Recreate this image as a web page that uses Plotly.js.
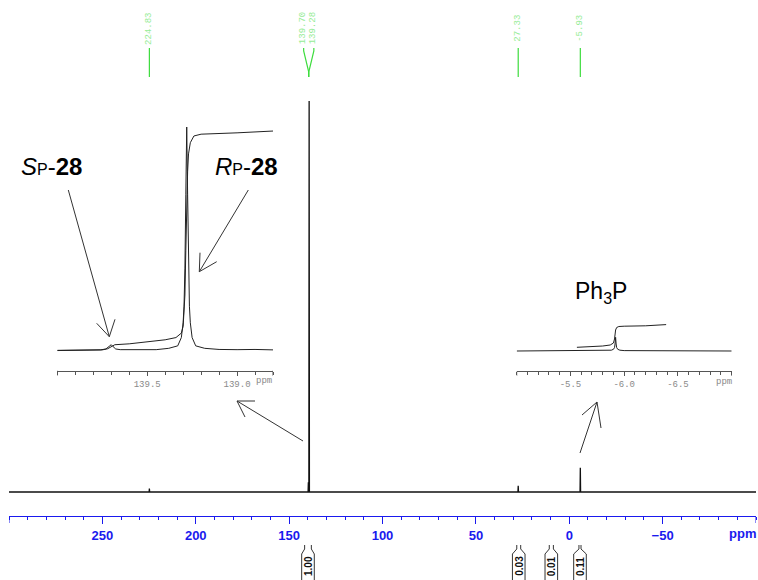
<!DOCTYPE html>
<html>
<head>
<meta charset="utf-8">
<script src="https://cdn.plot.ly/plotly-3.0.1.min.js"></script>
<style>html,body{margin:0;padding:0;background:#fff;}#chart{width:758px;height:580px;}</style>
</head>
<body>
<div id="chart"></div>
<script>
// ---------------- DATA ----------------
// main 31P spectrum: peak positions (ppm) and intensities (% of largest)
const mainPeakPpm = [224.83, 139.70, 139.28, 27.33, -5.93];
const mainPeakInt = [0.9, 2.5, 100, 1.6, 6.2];
const mainRange = [300, -100];
const mainTickVals = [250, 200, 150, 100, 50, 0, -50];
const mainTickText = ['250', '200', '150', '100', '50', '0', '\u221250'];

// peak pick labels
const labelPpm = [224.83, 139.70, 139.28, 27.33, -5.93];
const labelText = ['224.83', '139.70', '139.28', '27.33', '-5.93'];

// integrals
const integralFrom = [141.7, 28.1, 10.7, -5.2];
const integralTo = [138.1, 26.0, 8.5, -6.3];
const integralText = ['1.00', '0.03', '0.01', '0.11'];

// inset A (139 ppm region): spectrum and integral curve
const insetAPpm = [140.00, 139.85, 139.76, 139.73, 139.715, 139.70, 139.69, 139.675, 139.65, 139.55, 139.45,
  139.38, 139.33, 139.31, 139.30, 139.295, 139.29, 139.285, 139.28, 139.275, 139.27, 139.265, 139.26,
  139.25, 139.23, 139.18, 139.10, 139.05, 139.00, 138.90, 138.80];
const insetAInt = [0.2, 0.3, 0.5, 0.9, 2.0, 2.8, 2.0, 0.9, 0.6, 0.5, 0.6,
  1.2, 2.3, 6, 12.6, 20, 37, 70, 100, 70, 37, 20, 12.6,
  6, 2.3, 1.2, 0.7, 0.8, 0.6, 0.7, 0.5];
const insetAIntegPpm = [140.00, 139.75, 139.72, 139.70, 139.68, 139.60, 139.50, 139.40, 139.34, 139.31,
  139.30, 139.29, 139.285, 139.28, 139.275, 139.27, 139.26, 139.24, 139.20, 139.00, 138.80];
const insetAIntegVal = [0.3, 0.5, 1.0, 2.0, 2.8, 3.2, 4.0, 5.0, 6.0, 8,
  11, 25, 45, 65, 80, 88, 93, 96, 96.8, 97.4, 98.2];
const insetARange = [140.0, 138.8];
const insetATickVals = [139.5, 139.0];
const insetATickText = ['139.5', '139.0'];

// inset B (Ph3P region): spectrum and integral curve
const insetBPpm = [-5.00, -5.30, -5.50, -5.80, -5.88, -5.90, -5.91, -5.915, -5.92, -5.925, -5.93,
  -5.94, -5.96, -6.00, -6.30, -6.60, -7.00];
const insetBInt = [0.0, 0.2, 0.3, 0.4, 0.8, 1.7, 3.4, 7, 13.7, 7, 3.4,
  1.7, 0.8, 0.4, 0.2, 0.3, 0.0];
const insetBIntegPpm = [-5.56, -5.70, -5.80, -5.87, -5.90, -5.91, -5.915, -5.92, -5.93, -5.95, -6.00, -6.20, -6.39];
const insetBIntegVal = [3.7, 4.2, 5.0, 6.0, 8, 12, 17, 21, 23.5, 24.5, 24.8, 25.2, 26.4];
const insetBRange = [-5.0, -7.0];
const insetBTickVals = [-5.5, -6.0, -6.5];
const insetBTickText = ['-5.5', '-6.0', '-6.5'];

// ---------------- LAYOUT HELPERS ----------------
const W = 758, H = 580;
const MX0 = 9, MX1 = 756;
function mainPx(ppm) { return MX0 + (mainRange[0] - ppm) / (mainRange[0] - mainRange[1]) * (MX1 - MX0); }
function px(x) { return x / W; }
function py(y) { return 1 - y / H; }

// build main spectrum polyline from peak list
const order = mainPeakPpm.map((p, i) => i).sort((a, b) => mainPeakPpm[b] - mainPeakPpm[a]);
const mainX = [mainRange[0]], mainY = [0];
order.forEach(i => {
  const p = mainPeakPpm[i];
  mainX.push(p + 0.15, p, p - 0.15);
  mainY.push(0, mainPeakInt[i], 0);
});
mainX.push(mainRange[1]); mainY.push(0);

const traces = [
  {x: mainX, y: mainY, xaxis: 'x', yaxis: 'y', mode: 'lines', line: {color: '#111', width: 1.3}, hoverinfo: 'skip'},
  {x: insetAPpm, y: insetAInt, xaxis: 'x2', yaxis: 'y2', mode: 'lines', line: {color: '#222', width: 1}, hoverinfo: 'skip'},
  {x: insetAIntegPpm, y: insetAIntegVal, xaxis: 'x2', yaxis: 'y2', mode: 'lines', line: {color: '#222', width: 1}, hoverinfo: 'skip'},
  {x: insetBPpm, y: insetBInt, xaxis: 'x3', yaxis: 'y3', mode: 'lines', line: {color: '#222', width: 1}, hoverinfo: 'skip'},
  {x: insetBIntegPpm, y: insetBIntegVal, xaxis: 'x3', yaxis: 'y3', mode: 'lines', line: {color: '#222', width: 1}, hoverinfo: 'skip'}
];

const shapes = [];
const annotations = [];

function seg(x1, y1, x2, y2, color, width) {
  shapes.push({type: 'line', xref: 'paper', yref: 'paper', x0: px(x1), y0: py(y1), x1: px(x2), y1: py(y2),
    line: {color: color || '#222', width: width || 1}});
}
function pathPx(pts, color, width) {
  let d = pts.map((p, i) => (i ? 'L' : 'M') + px(p[0]).toFixed(5) + ',' + py(p[1]).toFixed(5)).join(' ');
  shapes.push({type: 'path', xref: 'paper', yref: 'paper', path: d, line: {color: color, width: width || 1}});
}

// end ticks of the main axis (long, like major ticks)
mainRange.forEach(v => {
  shapes.push({type: 'line', xref: 'x', yref: 'paper', x0: v, x1: v, y0: py(516), y1: py(523),
    line: {color: '#1a1aee', width: 1}});
});
// end ticks of the insets
[[insetARange, 'x2', 370.7], [insetBRange, 'x3', 371]].forEach(s => {
  s[0].forEach(v => {
    shapes.push({type: 'line', xref: s[1], yref: 'paper', x0: v, x1: v, y0: py(s[2]), y1: py(s[2] + 5),
      line: {color: '#555', width: 1}});
  });
});

// peak pick labels (green)
const labelOffsets = labelPpm.map(() => 0);
labelPpm.forEach((p, i) => {
  let off = 0;
  if (i > 0 && Math.abs(labelPpm[i - 1] - p) < 2) off = 4.7;
  if (i < labelPpm.length - 1 && Math.abs(labelPpm[i + 1] - p) < 2) off = -4.7;
  labelOffsets[i] = off;
});
labelPpm.forEach((p, i) => {
  const lx = mainPx(p) + labelOffsets[i];
  let bx = mainPx(p);
  if (labelOffsets[i] !== 0) {
    const j = labelOffsets[i] < 0 ? i + 1 : i - 1;
    bx = (mainPx(p) + mainPx(labelPpm[j])) / 2;
  }
  pathPx([[lx, 48], [lx, 51], [bx, 72], [bx, 77]], '#3ddc3d', 1.2);
  annotations.push({xref: 'paper', yref: 'paper', x: px(lx), y: py(28.5), text: labelText[i], textangle: -90,
    showarrow: false, xanchor: 'center', yanchor: 'middle',
    font: {family: 'Liberation Mono, DejaVu Sans Mono, monospace', size: 9, color: '#96ec96'}});
});

// integral tags under the axis
integralText.forEach((t, i) => {
  const a = mainPx(integralFrom[i]), b = mainPx(integralTo[i]);
  const c = (a + b) / 2;
  const hw = Math.max(6.3, (b - a) / 2 + 1.5);
  const top = 545;
  pathPx([[a, top], [a, top + 4], [c - hw, top + 9], [c - hw, 584], [c + hw, 584], [c + hw, top + 9], [b, top + 4], [b, top]], '#333', 1);
  annotations.push({xref: 'paper', yref: 'paper', x: px(c), y: py(566), text: '<b>' + t + '</b>', textangle: -90,
    showarrow: false, xanchor: 'center', yanchor: 'middle',
    font: {family: 'Liberation Sans, Arial, sans-serif', size: 10, color: '#111'}});
});

// arrows (open heads)
const arrows = [
  [[68.3, 190], [109.3, 336.7], [96.7, 323.3], [115, 319.3]],
  [[248.3, 190], [199.3, 271.7], [200, 252.7], [216.7, 261.7]],
  [[303, 441], [237, 401], [255, 401], [245, 417]],
  [[580, 453], [597, 402], [582, 415], [601, 428]]
];
arrows.forEach(a => {
  seg(a[0][0], a[0][1], a[1][0], a[1][1], '#333', 1);
  seg(a[1][0], a[1][1], a[2][0], a[2][1], '#333', 1);
  seg(a[1][0], a[1][1], a[3][0], a[3][1], '#333', 1);
});

// compound labels
const bigFont = {family: 'Liberation Sans, Arial, sans-serif', size: 24, color: '#000'};
annotations.push({xref: 'paper', yref: 'paper', x: px(51.5), y: py(167), showarrow: false, xanchor: 'center', yanchor: 'middle',
  text: '<i>S</i><span style="font-size:16px">P</span>-<b>28</b>', font: bigFont});
annotations.push({xref: 'paper', yref: 'paper', x: px(246.5), y: py(167), showarrow: false, xanchor: 'center', yanchor: 'middle',
  text: '<i>R</i><span style="font-size:16px">P</span>-<b>28</b>', font: bigFont});
annotations.push({xref: 'paper', yref: 'paper', x: px(600.5), y: py(292), showarrow: false, xanchor: 'center', yanchor: 'middle',
  text: 'Ph<sub>3</sub>P', font: {family: 'Liberation Sans, Arial, sans-serif', size: 23, color: '#000'}});

// axis unit labels
annotations.push({xref: 'paper', yref: 'paper', x: px(742), y: py(533), showarrow: false, xanchor: 'center', yanchor: 'middle',
  text: '<b>ppm</b>', font: {family: 'Liberation Sans, Arial, sans-serif', size: 13, color: '#1a1aee'}});
const monoFont = {family: 'Liberation Mono, DejaVu Sans Mono, monospace', size: 9, color: '#8a8a8a'};
annotations.push({xref: 'paper', yref: 'paper', x: px(263.5), y: py(381), showarrow: false, xanchor: 'center', yanchor: 'middle',
  text: 'ppm', font: monoFont});
annotations.push({xref: 'paper', yref: 'paper', x: px(723.5), y: py(381.5), showarrow: false, xanchor: 'center', yanchor: 'middle',
  text: 'ppm', font: monoFont});

const insetAxis = {
  anchor: 'free', showline: true, linecolor: '#555', linewidth: 1, ticks: 'outside', ticklen: 4, tickcolor: '#555',
  tickwidth: 1, tickmode: 'array', showgrid: false, zeroline: false, tickfont: monoFont,
  minor: {tick0: 0, dtick: 0.1, ticks: 'outside', ticklen: 3, tickcolor: '#555', tickwidth: 1, showgrid: false}
};

const layout = {
  width: W, height: H, margin: {l: 0, r: 0, t: 0, b: 0},
  paper_bgcolor: '#fff', plot_bgcolor: 'rgba(0,0,0,0)', showlegend: false,
  xaxis: {domain: [px(MX0), px(MX1)], range: mainRange, anchor: 'free', position: py(516),
    showline: true, linecolor: '#1a1aee', linewidth: 1, ticks: 'outside', ticklen: 7, tickcolor: '#1a1aee', tickwidth: 1,
    tickmode: 'array', tickvals: mainTickVals, ticktext: mainTickText, showgrid: false, zeroline: false,
    tickfont: {family: 'Liberation Sans, Arial, sans-serif', size: 13, color: '#1a1aee', weight: 'bold'},
    minor: {tick0: 0, dtick: 10, ticks: 'outside', ticklen: 3, tickcolor: '#1a1aee', tickwidth: 1, showgrid: false}},
  yaxis: {domain: [0, 1], range: [-22.51, 125.83], visible: false, anchor: 'x'},
  xaxis2: Object.assign({}, insetAxis, {domain: [px(57.3), px(273)], range: insetARange, position: py(370.7),
    tickvals: insetATickVals, ticktext: insetATickText}),
  yaxis2: {domain: [0, 1], range: [-102.23, 156.70], visible: false, anchor: 'x2'},
  xaxis3: Object.assign({}, insetAxis, {domain: [px(516.7), px(731.7)], range: insetBRange, position: py(371),
    tickvals: insetBTickVals, ticktext: insetBTickText}),
  yaxis3: {domain: [0, 1], range: [-229, 351], visible: false, anchor: 'x3'},
  shapes: shapes,
  annotations: annotations
};

Plotly.newPlot('chart', traces, layout, {staticPlot: true, displayModeBar: false});
</script>
</body>
</html>
